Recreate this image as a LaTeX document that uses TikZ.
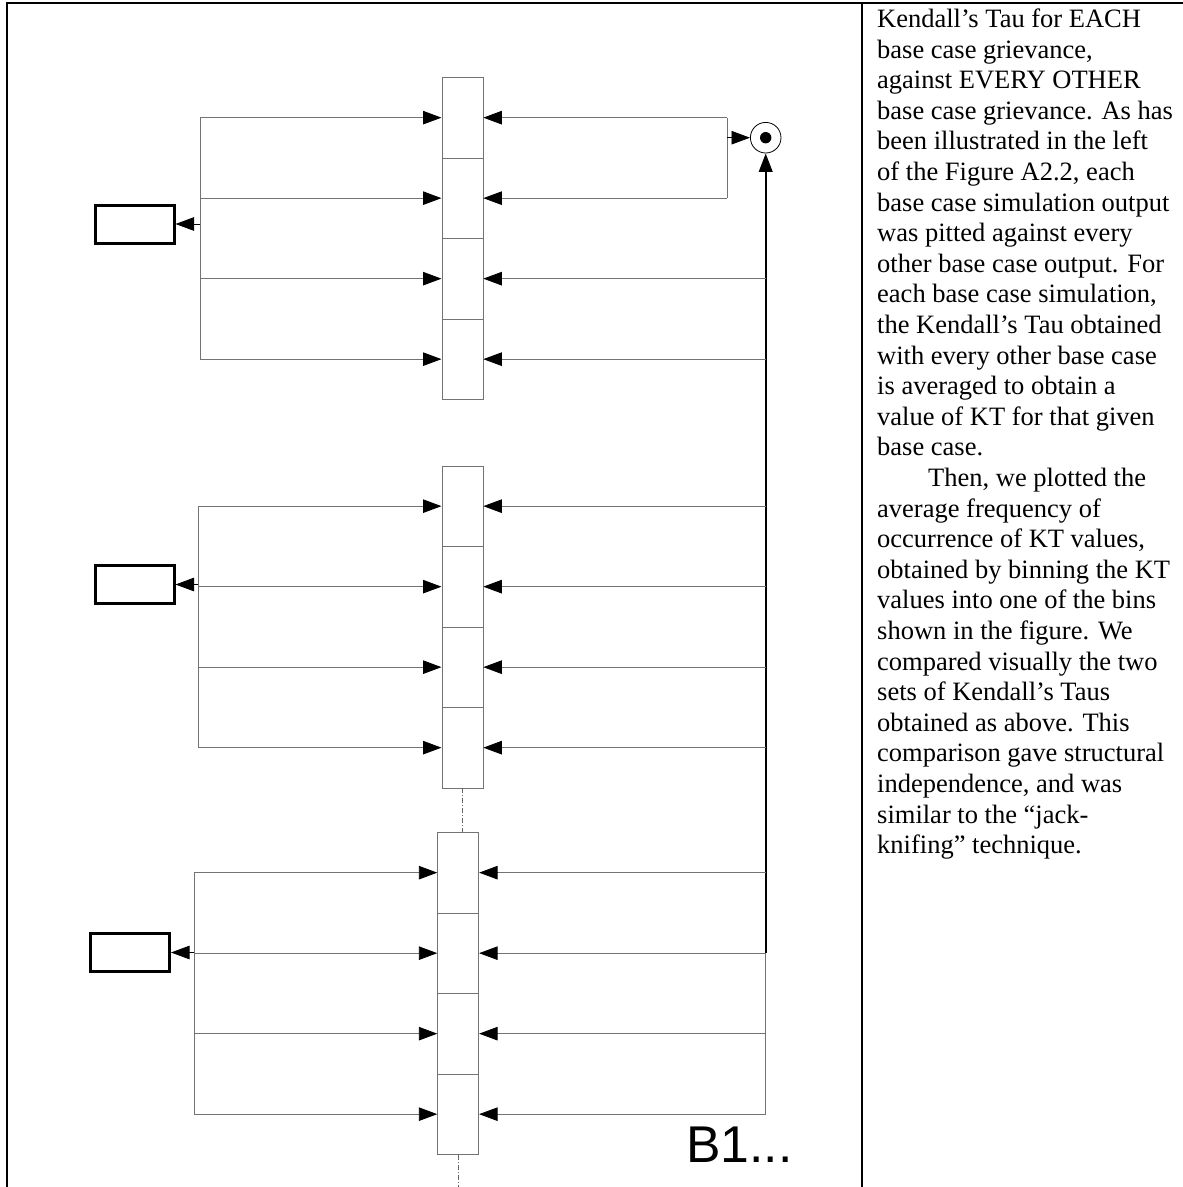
\documentclass[tikz,border=0pt]{standalone}
\usepackage{fontspec}
\setmainfont{Liberation Serif}
\newfontfamily\arialfont{Liberation Sans}
\usetikzlibrary{arrows.meta}
\begin{document}
\begin{tikzpicture}[x=1pt,y=-1pt,
  cell/.style={draw=black!55, line width=0.8pt, minimum width=41pt, minimum height=80.5pt, inner sep=0pt, anchor=north west},
  lbox/.style={draw=black, line width=3pt, minimum width=79pt, minimum height=38pt, inner sep=0pt},
  conn/.style={draw=black!55, line width=0.9pt},
  arr/.style={-{Triangle[length=18.5pt,width=13.5pt,color=black]}},
  frame/.style={line width=1.8pt, draw=black},
  dashdot/.style={draw=black!60, line width=0.8pt, dash pattern=on 5pt off 2pt on 1pt off 2pt}]
\useasboundingbox (0,0) rectangle (1183,1187);
% table frame
\draw[frame] (7.3,1187) -- (7.3,3.3) -- (1183,3.3);
\draw[frame] (862,3.3) -- (862,1187);
% bus coordinates
\coordinate (bl1) at (200,0);
\coordinate (bl2) at (198,0);
\coordinate (bl3) at (194.3,0);
\coordinate (rb) at (765.7,0);
\coordinate (lp) at (727,0);
\coordinate (bend) at (457.5,1187);
% block 1
\node[cell] (a1) at (441.5,77) {};
\node[cell] (a2) at (441.5,157.5) {};
\node[cell] (a3) at (441.5,238) {};
\node[cell] (a4) at (441.5,318.5) {};
\node[lbox] (l1) at (134.5,224) {};
% block 2
\node[cell] (b1) at (441.5,465.5) {};
\node[cell] (b2) at (441.5,546) {};
\node[cell] (b3) at (441.5,626.5) {};
\node[cell] (b4) at (441.5,707) {};
\node[lbox] (l2) at (134.5,584.5) {};
% block 3
\node[cell] (c1) at (437.3,832) {};
\node[cell] (c2) at (437.3,912.5) {};
\node[cell] (c3) at (437.3,993) {};
\node[cell] (c4) at (437.3,1073.5) {};
\node[lbox] (l3) at (130,952.5) {};
% summing circle
\node[circle, draw=black, line width=0.8pt, minimum size=30.6pt, inner sep=0pt] (sum) at (765.7,137.7) {};
\fill (sum.center) circle (5.7);
% left buses
\foreach \blk/\bus/\lb in {a/bl1/l1, b/bl2/l2, c/bl3/l3}{
  \draw[conn] (\blk1.west -| \bus) -- (\blk4.west -| \bus);
  \foreach \i in {1,2,3,4}{
    \draw[conn, arr] (\blk\i.west -| \bus) -- (\blk\i.west);
  }
  \draw[black, line width=0.8pt, arr] (\lb.east -| \bus) -- (\lb.east);
}
% top loop to circle
\draw[conn] (a1.east -| lp) -- (a2.east -| lp);
\draw[conn, arr] (a1.east -| lp) -- (a1.east);
\draw[conn, arr] (a2.east -| lp) -- (a2.east);
\draw[black, line width=0.8pt, arr] (lp |- sum) -- (sum.west);
% right bus
\draw[black, line width=2.3pt, arr] (c2.east -| rb) -- (sum.south);
\draw[conn] (c2.east -| rb) -- (c4.east -| rb);
\foreach \n in {a3,a4,b1,b2,b3,b4,c1,c2,c3,c4}{
  \draw[conn, arr] (\n.east -| rb) -- (\n.east);
}
% dash-dot continuations
\draw[dashdot] (b4.south) -- (b4.south |- c1.north);
\draw[dashdot] (c4.south) -- (c4.south |- bend);
% label
\node[anchor=base west, inner sep=0pt, font=\arialfont\fontsize{51.7}{60}\selectfont] (lab) at (686,1162) {B1...};
% text
\node[anchor=base west, inner sep=0pt, font=\fontsize{26.5}{30.6}\selectfont] (txt) at (877,27.5) {%
\begin{tabular}[t]{@{}l@{}}
Kendall’s Tau for EACH\\
base case grievance,\\
against EVERY OTHER\\
base case grievance. As has\\
been illustrated in the left\\
of the Figure A2.2, each\\
base case simulation output\\
was pitted against every\\
other base case output. For\\
each base case simulation,\\
the Kendall’s Tau obtained\\
with every other base case\\
is averaged to obtain a\\
value of KT for that given\\
base case.\\
\hspace*{51pt}Then, we plotted the\\
average frequency of\\
occurrence of KT values,\\
obtained by binning the KT\\
values into one of the bins\\
shown in the figure. We\\
compared visually the two\\
sets of Kendall’s Taus\\
obtained as above. This\\
comparison gave structural\\
independence, and was\\
similar to the “jack-\\
knifing” technique.
\end{tabular}};
\end{tikzpicture}
\end{document}
